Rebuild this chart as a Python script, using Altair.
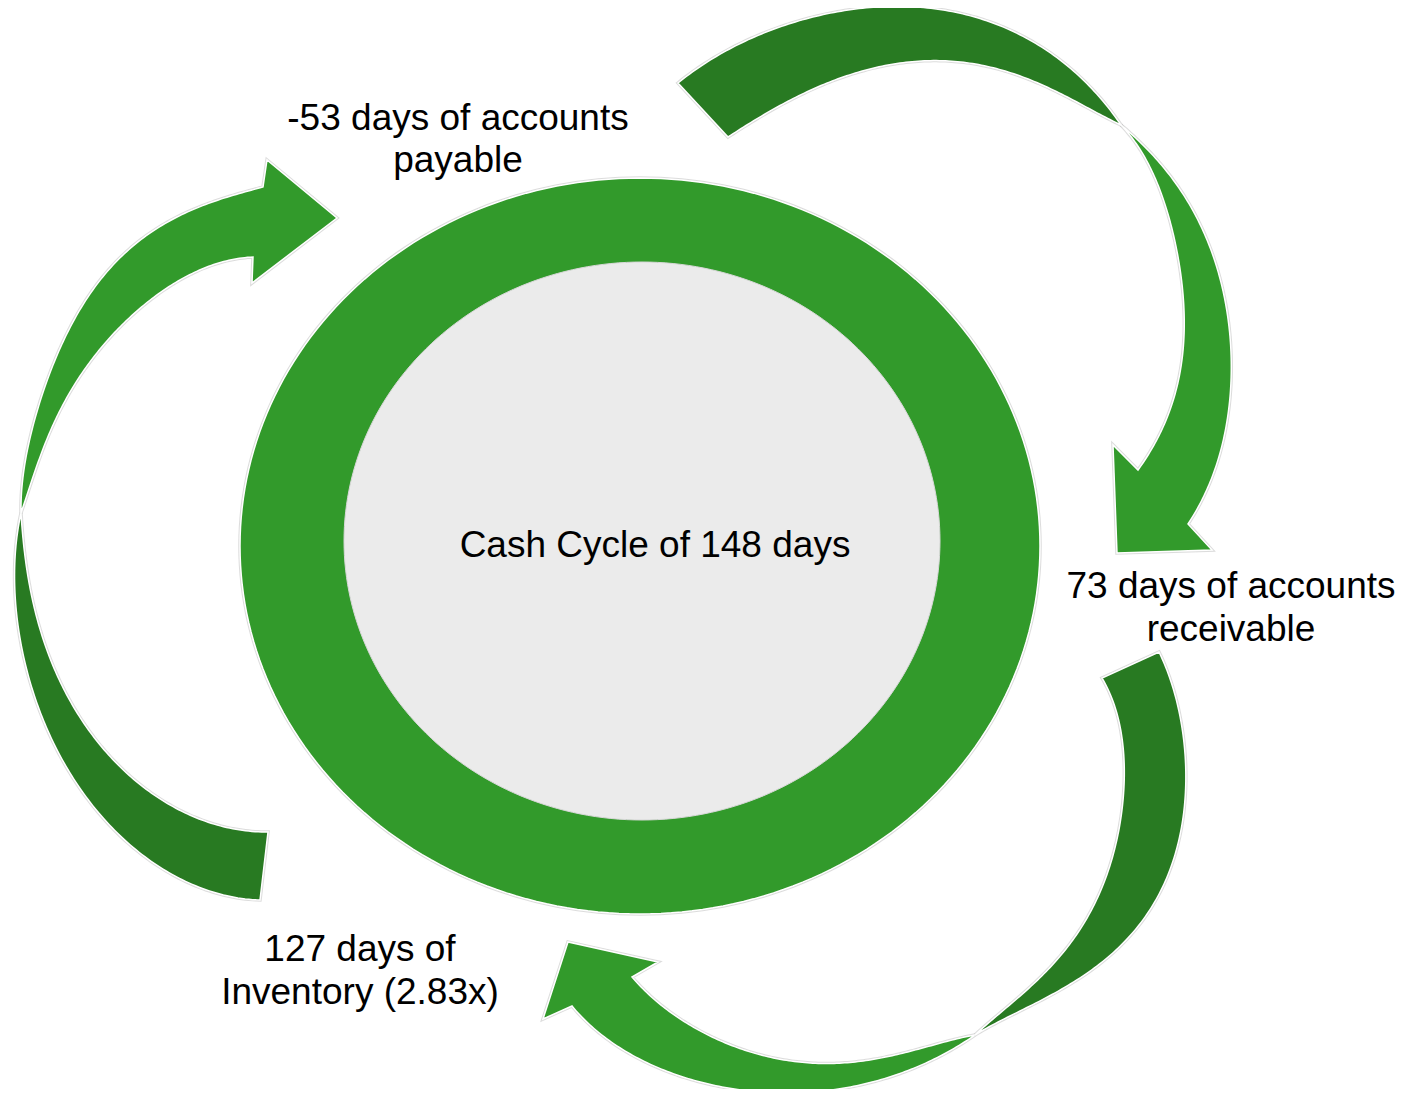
import numpy as np
import pandas as pd
import altair as alt

# ---------------- shape data (pixel space of the reference picture) ----------------
ring_outer = {"cx": 640, "cy": 546, "rx": 400, "ry": 368}
ring_inner = {"cx": 642, "cy": 541, "rx": 298, "ry": 279}

# arrow 1 (top-right): dark back part (tail -> twist), light front part (twist -> head)
a1_dark_outer = [(678, 83), (727, 50), (793, 23), (860, 8), (910, 7), (960, 13), (1010, 30), (1060, 60), (1093, 90), (1121, 125)]
a1_dark_inner = [(728, 137), (777, 107), (827, 83), (877, 68), (920, 60), (960, 62), (1010, 73), (1060, 93), (1121, 125)]
a1_light_outer = [(1121, 125), (1155, 160), (1185, 195), (1205, 235), (1219, 280), (1229, 330), (1231, 380), (1226, 430), (1212, 475), (1188, 524)]
a1_light_inner = [(1121, 125), (1145, 160), (1163, 195), (1174, 240), (1181, 280), (1184, 325), (1181, 367), (1173, 402), (1158, 436), (1138, 470)]
a1_head = [(1188, 524), (1212, 550), (1117, 553), (1113, 445), (1138, 470)]

# arrow 2 (bottom-right)
a2_dark_outer = [(1159, 652), (1180, 707), (1185, 757), (1183, 807), (1173, 865), (1153, 912), (1122, 948), (1090, 968), (1063, 987), (1030, 1010), (997, 1025), (975, 1035)]
a2_dark_inner = [(1102, 678), (1120, 723), (1124, 773), (1120, 823), (1108, 875), (1088, 915), (1067, 950), (1047, 970), (1023, 993), (997, 1017), (975, 1035)]
a2_light_outer = [(975, 1035), (930, 1061), (880, 1080), (830, 1090), (797, 1093), (730, 1088), (663, 1070), (613, 1043), (572, 1006)]
a2_light_inner = [(975, 1035), (930, 1046), (863, 1061), (813, 1063), (763, 1056), (713, 1037), (663, 1007), (632, 977)]
a2_head = [(572, 1006), (543, 1019), (568, 942), (658, 962), (632, 977)]

# arrow 3 (left)
a3_dark_outer = [(21, 513), (15, 560), (15, 600), (22, 645), (30, 683), (45, 725), (67, 767), (117, 833), (177, 877), (260, 900)]
a3_dark_inner = [(21, 513), (25, 550), (29, 585), (37, 617), (50, 660), (67, 693), (110, 757), (167, 803), (217, 825), (268, 832)]
a3_light_outer = [(21, 513), (23, 480), (28, 447), (36, 415), (47, 380), (57, 357), (93, 290), (140, 240), (200, 207), (263, 187)]
a3_light_inner = [(21, 513), (33, 480), (43, 447), (58, 415), (78, 380), (97, 353), (150, 300), (200, 270), (253, 257)]
a3_head = [(263, 187), (267, 160), (337, 218), (252, 283), (253, 257)]

label_text = ["-53 days of accounts", "payable", "73 days of accounts", "receivable",
              "127 days of", "Inventory (2.83x)", "Cash Cycle of 148 days"]
label_x = [458, 458, 1231, 1231, 360, 360, 655]
label_y = [130, 172, 598, 641, 961, 1004, 557]

LIGHT = "#329a2b"
DARK = "#287a22"
GRAY = "#ebebeb"


# ---------------- geometry helpers ----------------
def smooth(points, deg=5, n=140):
    """Smooth curve through the read-off edge points (least squares, ends pinned)."""
    P = np.array(points, float)
    d = np.r_[0, np.cumsum(np.hypot(*np.diff(P, axis=0).T))]
    t = d / d[-1]
    deg = min(deg, len(P) - 2)
    cx = np.polyfit(t, P[:, 0], deg)
    cy = np.polyfit(t, P[:, 1], deg)
    tt = np.linspace(0, 1, n)
    x = np.polyval(cx, tt)
    y = np.polyval(cy, tt)
    x += (P[0, 0] - x[0]) * (1 - tt) + (P[-1, 0] - x[-1]) * tt
    y += (P[0, 1] - y[0]) * (1 - tt) + (P[-1, 1] - y[-1]) * tt
    return list(zip(x, y))


def ellipse(e, n=240):
    t = np.linspace(0, 2 * np.pi, n, endpoint=False)
    return list(zip(e["cx"] + e["rx"] * np.cos(t), e["cy"] + e["ry"] * np.sin(t)))


def feature(points):
    pts = [[round(float(x), 2), round(float(y), 2)] for x, y in points]
    pts.append(pts[0])
    return {"type": "Feature", "geometry": {"type": "Polygon", "coordinates": [pts]}, "properties": {}}


def light_band(outer, inner, head):
    return smooth(outer) + head[1:-1] + smooth(inner)[::-1]


def dark_band(outer, inner):
    return smooth(outer) + smooth(inner)[::-1]


dark_feats = [feature(dark_band(a1_dark_outer, a1_dark_inner)),
              feature(dark_band(a2_dark_outer, a2_dark_inner)),
              feature(dark_band(a3_dark_outer, a3_dark_inner))]
light_feats = [feature(light_band(a1_light_outer, a1_light_inner, a1_head)),
               feature(light_band(a2_light_outer, a2_light_inner, a2_head)),
               feature(light_band(a3_light_outer, a3_light_inner, a3_head))]
ring_feats = [feature(ellipse(ring_outer))]

proj = dict(type="identity", scale=1, translate=[-8, -8])


def shapes(feats, fill, stroke="white", sw=1.5, opacity=1.0):
    return alt.Chart(alt.Data(values=feats)).mark_geoshape(
        fill=fill, stroke=stroke, strokeWidth=sw, opacity=opacity
    ).project(**proj)


shadow = alt.Chart(alt.Data(values=ring_feats + dark_feats + light_feats)).mark_geoshape(
    fill="none", stroke="#8a8a8a", strokeWidth=3.5, opacity=0.3
).project(**proj)

outer_layer = shapes(ring_feats, LIGHT)
inner_layer = shapes([feature(ellipse(ring_inner))], GRAY, stroke="#d8d8d8", sw=1)
dark_layer = shapes(dark_feats, DARK)
light_layer = shapes(light_feats, LIGHT)

labels = pd.DataFrame({"text": label_text, "lon": label_x, "lat": label_y})
text_layer = alt.Chart(labels).mark_text(
    font="Liberation Sans", fontSize=37, color="black", align="center", baseline="alphabetic"
).encode(longitude="lon:Q", latitude="lat:Q", text="text:N").project(**proj)

chart = alt.layer(shadow, outer_layer, inner_layer, dark_layer, light_layer, text_layer).properties(
    width=1400, height=1081, padding=0, autosize="none", background="white"
).configure_view(stroke=None)

chart.save("out.html", embed_options={"renderer": "svg", "actions": False})
